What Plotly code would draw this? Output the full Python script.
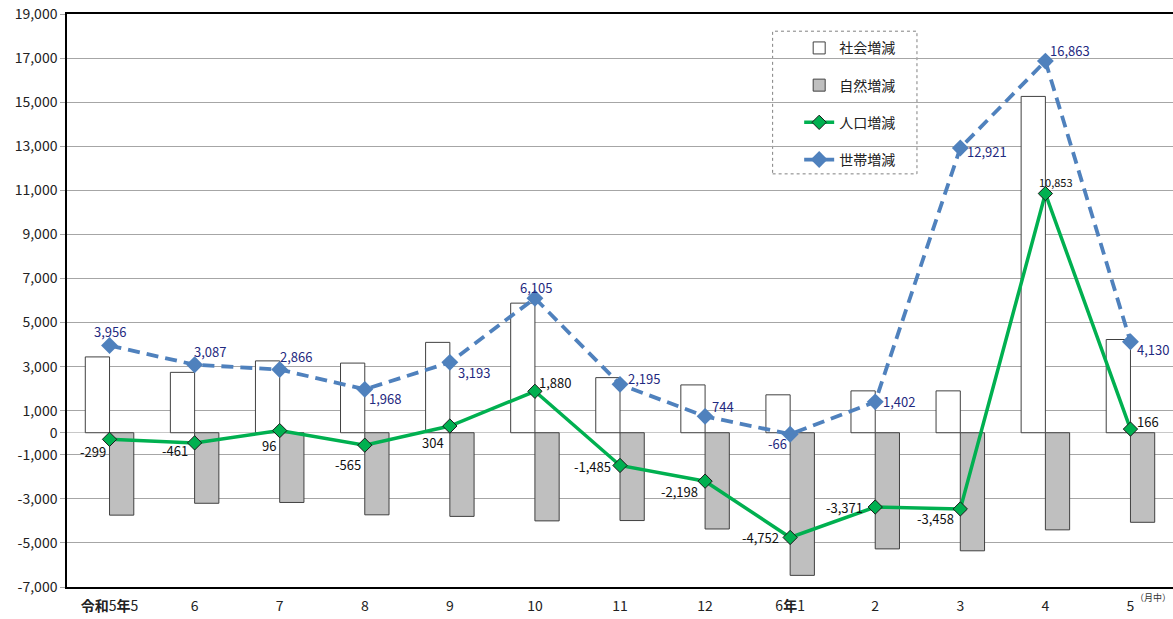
import plotly.graph_objects as go

months = ["<b>令和</b>5<b>年</b>5", "6", "7", "8", "9", "10", "11", "12",
          "6<b>年</b>1", "2", "3", "4", "5"]
social = [3440, 2740, 3260, 3160, 4100, 5880, 2500, 2170, 1720, 1900, 1900, 15260, 4230]
natural = [-3739, -3201, -3164, -3725, -3796, -4000, -3985, -4368, -6472, -5271, -5358, -4407, -4064]
population = [-299, -461, 96, -565, 304, 1880, -1485, -2198, -4752, -3371, -3458, 10853, 166]
households = [3956, 3087, 2866, 1968, 3193, 6105, 2195, 744, -66, 1402, 12921, 16863, 4130]
ytick_vals = [19000, 17000, 15000, 13000, 11000, 9000, 7000, 5000, 3000, 1000, 0,
              -1000, -3000, -5000, -7000]

x = list(range(len(months)))
FONT = "Noto Sans CJK JP"
NAVY = "#1F2A80"

fig = go.Figure()
fig.add_trace(go.Bar(x=x, y=social, name="社会増減", legendgroup="a",
                     marker=dict(color="white", line=dict(color="#404040", width=1))))
fig.add_trace(go.Bar(x=x, y=natural, name="自然増減", legendgroup="b",
                     marker=dict(color="#BFBFBF", line=dict(color="#404040", width=1))))
fig.add_trace(go.Scatter(x=x, y=population, name="人口増減", mode="lines+markers",
                         legendgroup="c",
                         line=dict(color="#00B050", width=3.5),
                         marker=dict(symbol="diamond", size=11, color="#00B050",
                                     line=dict(color="#1a1a1a", width=1))))
fig.add_trace(go.Scatter(x=x, y=households, name="世帯増減", mode="lines+markers",
                         legendgroup="d",
                         line=dict(color="#4F81BD", width=3.8, dash="12px,7px"),
                         marker=dict(symbol="diamond", size=13, color="#4F81BD")))

# label offsets (style only): (xanchor, xshift, yshift)
pop_pos = [("right", -2, -12), ("right", -5, -8), ("right", -2, -15), ("right", -2, -19),
           ("right", -4, -16), ("left", 2, 9), ("right", -7, -1), ("right", -5, -10),
           ("right", -9, 0), ("right", -10, 0), ("right", -4, -10), ("center", 11, 12),
           ("left", 5, 8)]
hh_pos = [("center", 0, 14), ("left", -3, 13), ("left", -2, 13), ("left", 2, -9),
          ("left", 6, -10), ("center", 1, 11), ("left", 6, 6), ("left", 5, 10),
          ("right", -1, -9), ("left", 6, 0), ("left", 5, -4), ("left", 3, 11),
          ("left", 5, -8)]

annotations = []
for i, v in enumerate(population):
    xa, xs, ys = pop_pos[i]
    annotations.append(dict(x=x[i], y=v, xref="x", yref="y", text=f"{v:,}",
                            showarrow=False, xanchor=xa, yanchor="middle",
                            xshift=xs, yshift=ys,
                            font=dict(family=FONT, size=11 if i == 11 else 13, color="#111")))
for i, v in enumerate(households):
    xa, xs, ys = hh_pos[i]
    annotations.append(dict(x=x[i], y=v, xref="x", yref="y", text=f"{v:,}",
                            showarrow=False, xanchor=xa, yanchor="middle",
                            xshift=xs, yshift=ys,
                            font=dict(family=FONT, size=13, color=NAVY)))
annotations.append(dict(x=1.0, y=0, xref="paper", yref="paper", text="（月中）",
                        showarrow=False, xanchor="right", yanchor="top", yshift=-2,
                        font=dict(family=FONT, size=9, color="#333")))

fig.update_layout(
    width=1173, height=619,
    margin=dict(l=67, r=0, t=14, b=32),
    paper_bgcolor="white", plot_bgcolor="white",
    barmode="group", bargap=0.43, bargroupgap=0,
    font=dict(family=FONT, size=14, color="#222"),
    annotations=annotations,
    showlegend=True,
    legend=dict(x=0.662, y=0.968, xanchor="left", yanchor="top",
                bgcolor="rgba(0,0,0,0)", borderwidth=0,
                tracegroupgap=16, traceorder="grouped",
                font=dict(family=FONT, size=14, color="#222")),
    shapes=[dict(type="rect", xref="paper", yref="paper",
                 x0=0.638, x1=0.7685, y0=0.721, y1=0.970,
                 line=dict(color="#808080", width=1, dash="3px,3px"),
                 fillcolor="white", layer="below")],
    xaxis=dict(tickmode="array", tickvals=x, ticktext=months, range=[-0.5, 12.5],
               showline=True, linecolor="black", linewidth=1.5, mirror=True,
               showgrid=False, ticks="", automargin=False, ticklabelstandoff=5,
               tickfont=dict(family=FONT, size=14, color="#222")),
    yaxis=dict(range=[-7000, 19000], tickmode="array", tickvals=ytick_vals,
               ticktext=[f"{v:,}" for v in ytick_vals], automargin=False,
               showline=True, linecolor="black", linewidth=1.5,
               showgrid=True, gridcolor="#A6A6A6", gridwidth=1,
               zeroline=True, zerolinecolor="#C8C8C8", zerolinewidth=1,
               ticks="outside", ticklen=5, tickcolor="#A6A6A6",
               tickfont=dict(family=FONT, size=14, color="#222")),
)

fig.write_html("out.html", config={"displayModeBar": False},
               post_script="document.body.style.margin='0px';document.body.style.padding='0px';")
